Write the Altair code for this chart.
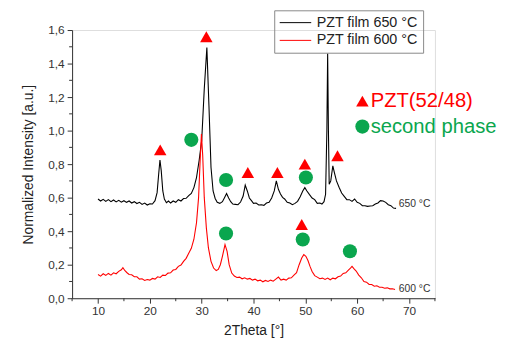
import altair as alt
import pandas as pd

# ---- data ----
x650 = [10.0, 10.5, 11.0, 11.5, 12.0, 12.5, 13.0, 13.5, 14.0, 14.5, 15.0, 15.5, 16.0, 16.5, 17.0, 17.5,
        18.0, 18.5, 19.0, 19.5, 20.0, 20.5, 21.0, 21.4, 21.7, 21.95, 22.2, 22.5, 22.8, 23.2, 23.6, 24.0,
        24.5, 25.0, 25.5, 26.0, 26.5, 27.0, 27.5, 28.0, 28.5, 29.0, 29.5, 30.0, 30.5, 31.0, 31.4, 31.8,
        32.2, 32.6, 33.0, 33.5, 34.0, 34.4, 34.8, 35.2, 35.6, 36.0, 36.5, 37.0, 37.5, 38.0, 38.4, 38.8,
        39.2, 39.6, 40.0, 40.5, 41.0, 41.5, 42.0, 42.5, 43.0, 43.5, 44.0, 44.4, 44.8, 45.2, 45.6, 46.0,
        46.5, 47.0, 47.5, 48.0, 48.5, 49.0, 49.5, 49.9, 50.3, 50.8, 51.3, 51.8, 52.3, 52.8, 53.2, 53.6,
        53.9, 54.15, 54.3, 54.45, 54.6, 54.9, 55.3, 55.6, 56.0, 56.5, 57.0, 57.5, 58.0, 58.5, 59.0, 59.5,
        60.0, 60.5, 61.0, 61.5, 62.0, 62.5, 63.0, 63.5, 64.0, 64.5, 65.0, 65.5, 66.0, 66.5, 67.0, 67.5]
y650 = [0.592, 0.580, 0.590, 0.578, 0.588, 0.576, 0.586, 0.575, 0.584, 0.573, 0.582, 0.572, 0.580, 0.568, 0.576, 0.565,
        0.572, 0.560, 0.568, 0.556, 0.564, 0.562, 0.582, 0.630, 0.740, 0.825, 0.760, 0.640, 0.592, 0.570, 0.580, 0.568,
        0.580, 0.572, 0.588, 0.580, 0.595, 0.596, 0.612, 0.625, 0.660, 0.720, 0.820, 0.940, 1.250, 1.495, 1.150, 0.780,
        0.640, 0.595, 0.572, 0.566, 0.576, 0.600, 0.625, 0.598, 0.576, 0.562, 0.560, 0.558, 0.574, 0.610, 0.675, 0.640,
        0.598, 0.582, 0.566, 0.568, 0.556, 0.558, 0.554, 0.568, 0.572, 0.598, 0.640, 0.700, 0.650, 0.622, 0.602, 0.592,
        0.572, 0.568, 0.558, 0.566, 0.578, 0.606, 0.640, 0.660, 0.640, 0.618, 0.598, 0.588, 0.566, 0.568, 0.562, 0.576,
        0.620, 1.000, 1.460, 1.000, 0.680, 0.700, 0.790, 0.750, 0.700, 0.662, 0.628, 0.608, 0.588, 0.588, 0.578, 0.592,
        0.572, 0.566, 0.552, 0.552, 0.548, 0.550, 0.552, 0.562, 0.568, 0.582, 0.580, 0.572, 0.558, 0.552, 0.538, 0.536]

x600 = [10.0, 10.5, 11.0, 11.5, 12.0, 12.5, 13.0, 13.5, 14.0, 14.5, 14.8, 15.2, 15.6, 16.0, 16.5, 17.0,
        17.5, 18.0, 18.5, 19.0, 19.5, 20.0, 20.5, 21.0, 21.5, 22.0, 22.5, 23.0, 23.5, 24.0, 24.5, 25.0,
        25.5, 26.0, 26.5, 27.0, 27.5, 28.0, 28.5, 29.0, 29.4, 29.7, 29.95, 30.2, 30.5, 30.9, 31.3, 31.8,
        32.3, 32.8, 33.2, 33.6, 34.0, 34.5, 34.9, 35.3, 35.8, 36.3, 36.8, 37.3, 37.8, 38.3, 38.8, 39.3,
        39.8, 40.3, 40.8, 41.3, 41.8, 42.3, 42.8, 43.3, 43.8, 44.3, 44.8, 45.3, 45.8, 46.3, 46.8, 47.3,
        47.8, 48.3, 48.8, 49.3, 49.7, 50.1, 50.5, 50.9, 51.3, 51.8, 52.3, 52.8, 53.3, 53.8, 54.3, 54.8,
        55.3, 55.8, 56.3, 56.8, 57.3, 57.8, 58.3, 58.7, 59.0, 59.4, 59.8, 60.3, 60.8, 61.3, 61.8, 62.3,
        62.8, 63.3, 63.8, 64.3, 64.8, 65.3, 65.8, 66.3, 66.8, 67.3]
y600 = [0.142, 0.132, 0.146, 0.136, 0.148, 0.138, 0.152, 0.146, 0.160, 0.170, 0.182, 0.164, 0.152, 0.142, 0.140, 0.128,
        0.128, 0.114, 0.116, 0.106, 0.112, 0.108, 0.118, 0.114, 0.128, 0.124, 0.138, 0.136, 0.150, 0.152, 0.168, 0.172,
        0.190, 0.198, 0.220, 0.238, 0.268, 0.298, 0.352, 0.450, 0.600, 0.820, 0.980, 0.850, 0.600, 0.420, 0.300, 0.220,
        0.180, 0.165, 0.172, 0.200, 0.250, 0.320, 0.280, 0.200, 0.150, 0.132, 0.124, 0.126, 0.116, 0.122, 0.114, 0.118,
        0.108, 0.114, 0.104, 0.108, 0.098, 0.106, 0.100, 0.108, 0.102, 0.114, 0.126, 0.108, 0.114, 0.108, 0.120, 0.122,
        0.138, 0.152, 0.200, 0.240, 0.260, 0.250, 0.225, 0.190, 0.160, 0.135, 0.126, 0.116, 0.120, 0.112, 0.120, 0.110,
        0.120, 0.116, 0.128, 0.132, 0.148, 0.152, 0.168, 0.180, 0.190, 0.175, 0.162, 0.138, 0.122, 0.100, 0.096, 0.082,
        0.082, 0.072, 0.074, 0.066, 0.066, 0.060, 0.062, 0.056, 0.056, 0.052]

series_names = ["PZT film 650 °C", "PZT film 600 °C"]
series_colors = ["#000000", "#ff0000"]

tri_x = [22.0, 30.9, 38.9, 44.6, 49.9, 56.2, 49.3]
tri_y = [0.885, 1.560, 0.750, 0.750, 0.800, 0.850, 0.440]
circ_x = [28.0, 34.7, 50.1, 34.7, 49.5, 58.6]
circ_y = [0.945, 0.705, 0.720, 0.386, 0.350, 0.280]

key_labels = ["PZT(52/48)", "second phase"]
key_colors = ["#ff0000", "#0aa64e"]
key_x = [61.0, 61.0]
key_y = [1.176, 1.024]
key_text_x = [62.6, 62.6]

end_labels = ["650 °C", "600 °C"]
end_x = [68.0, 68.0]
end_y = [0.559, 0.055]

x_major = [10, 20, 30, 40, 50, 60, 70]
x_minor = [5, 15, 25, 35, 45, 55, 65, 75]
y_major = [0.0, 0.2, 0.4, 0.6, 0.8, 1.0, 1.2, 1.4, 1.6]
y_minor = [0.1, 0.3, 0.5, 0.7, 0.9, 1.1, 1.3, 1.5]

FONT = "Liberation Sans"
GREEN = "#0aa64e"
AX = "#333333"

df650 = pd.DataFrame({"x": x650, "y": y650, "s": series_names[0]})
df600 = pd.DataFrame({"x": x600, "y": y600, "s": series_names[1]})

xs = alt.Scale(domain=[5, 75], nice=False, zero=False)
ys = alt.Scale(domain=[0, 1.6], nice=False)
cs = alt.Scale(domain=series_names, range=series_colors)

xaxis = alt.Axis(
    title="2Theta [°]", values=x_major, tickSize=5, format="d",
    grid=False, labelOverlap=False, labelFont=FONT, labelFontSize=12, labelColor=AX,
    titleFont=FONT, titleFontSize=14, titleFontWeight="normal", titleColor="#222222",
    domainColor=AX, tickColor=AX, labelPadding=3, titlePadding=7,
)
yaxis = alt.Axis(
    title="Normalized Intensity [a.u.]", values=y_major, tickSize=5,
    labelExpr="replace(format(datum.value, '.1f'), '.', ',')",
    grid=False, labelOverlap=False, labelFont=FONT, labelFontSize=12, labelColor=AX,
    titleFont=FONT, titleFontSize=14, titleFontWeight="normal", titleColor="#222222",
    domainColor=AX, tickColor=AX, labelPadding=3, titlePadding=12,
)


def X(f):
    return alt.X(f, type="quantitative", scale=xs, axis=xaxis)


def Y(f):
    return alt.Y(f, type="quantitative", scale=ys, axis=yaxis)


legend = alt.Legend(
    title=None, orient="none", legendX=205, legendY=-20,
    symbolType="stroke", symbolSize=1024, symbolStrokeWidth=1,
    clipHeight=15, rowPadding=2, padding=5, labelOffset=5,
    strokeColor="#888888", labelFont=FONT, labelFontSize=14.5, labelColor="#222222",
)

black = alt.Chart(df650).mark_line(strokeWidth=1.1).encode(
    x=X("x"), y=Y("y"), color=alt.Color("s:N", scale=cs, legend=legend),
)
red = alt.Chart(df600).mark_line(strokeWidth=1.1).encode(
    x=X("x"), y=Y("y"), color=alt.Color("s:N", scale=cs, legend=legend),
)

# minor ticks (axis decoration)
xmin_t = alt.Chart(pd.DataFrame({"x": x_minor})).mark_rule(color=AX, strokeWidth=1).encode(
    x=X("x"), y=alt.value(272), y2=alt.value(275)
)
ymin_t = alt.Chart(pd.DataFrame({"y": y_minor})).mark_rule(color=AX, strokeWidth=1).encode(
    y=Y("y"), x=alt.value(-3), x2=alt.value(0)
)

tri = alt.Chart(pd.DataFrame({"x": tri_x, "y": tri_y})).mark_point(
    shape="triangle-up", filled=True, opacity=1, color="#ff0000", size=160
).encode(x=X("x"), y=Y("y"))
circ = alt.Chart(pd.DataFrame({"x": circ_x, "y": circ_y})).mark_point(
    shape="circle", filled=True, opacity=1, color=GREEN, size=205
).encode(x=X("x"), y=Y("y"))

kdf = pd.DataFrame({"x": key_x, "y": key_y, "tx": key_text_x, "t": key_labels, "c": key_colors})
ktri = alt.Chart(kdf.iloc[[0]]).mark_point(
    shape="triangle-up", filled=True, opacity=1, color="#ff0000", size=160
).encode(x=X("x"), y=Y("y"))
kcirc = alt.Chart(kdf.iloc[[1]]).mark_point(
    shape="circle", filled=True, opacity=1, color=GREEN, size=205
).encode(x=X("x"), y=Y("y"))
ktext = alt.Chart(kdf).mark_text(
    align="left", baseline="middle", font=FONT, fontSize=20.5
).encode(x=X("tx"), y=Y("y"), text="t:N", color=alt.Color("c:N", scale=None))

edf = pd.DataFrame({"x": end_x, "y": end_y, "t": end_labels})
etext = alt.Chart(edf).mark_text(
    align="left", baseline="middle", font=FONT, fontSize=10.5, color=AX
).encode(x=X("x"), y=Y("y"), text="t:N")

chart = alt.layer(black, red, xmin_t, ymin_t, tri, circ, ktri, kcirc, ktext, etext).properties(
    width=368, height=272,
    padding={"left": 65, "top": 20, "right": 68, "bottom": 39},
    autosize="none",
).configure_view(stroke=None).configure(background="white")

chart.save("out.html", embed_options={"renderer": "svg", "actions": False})
